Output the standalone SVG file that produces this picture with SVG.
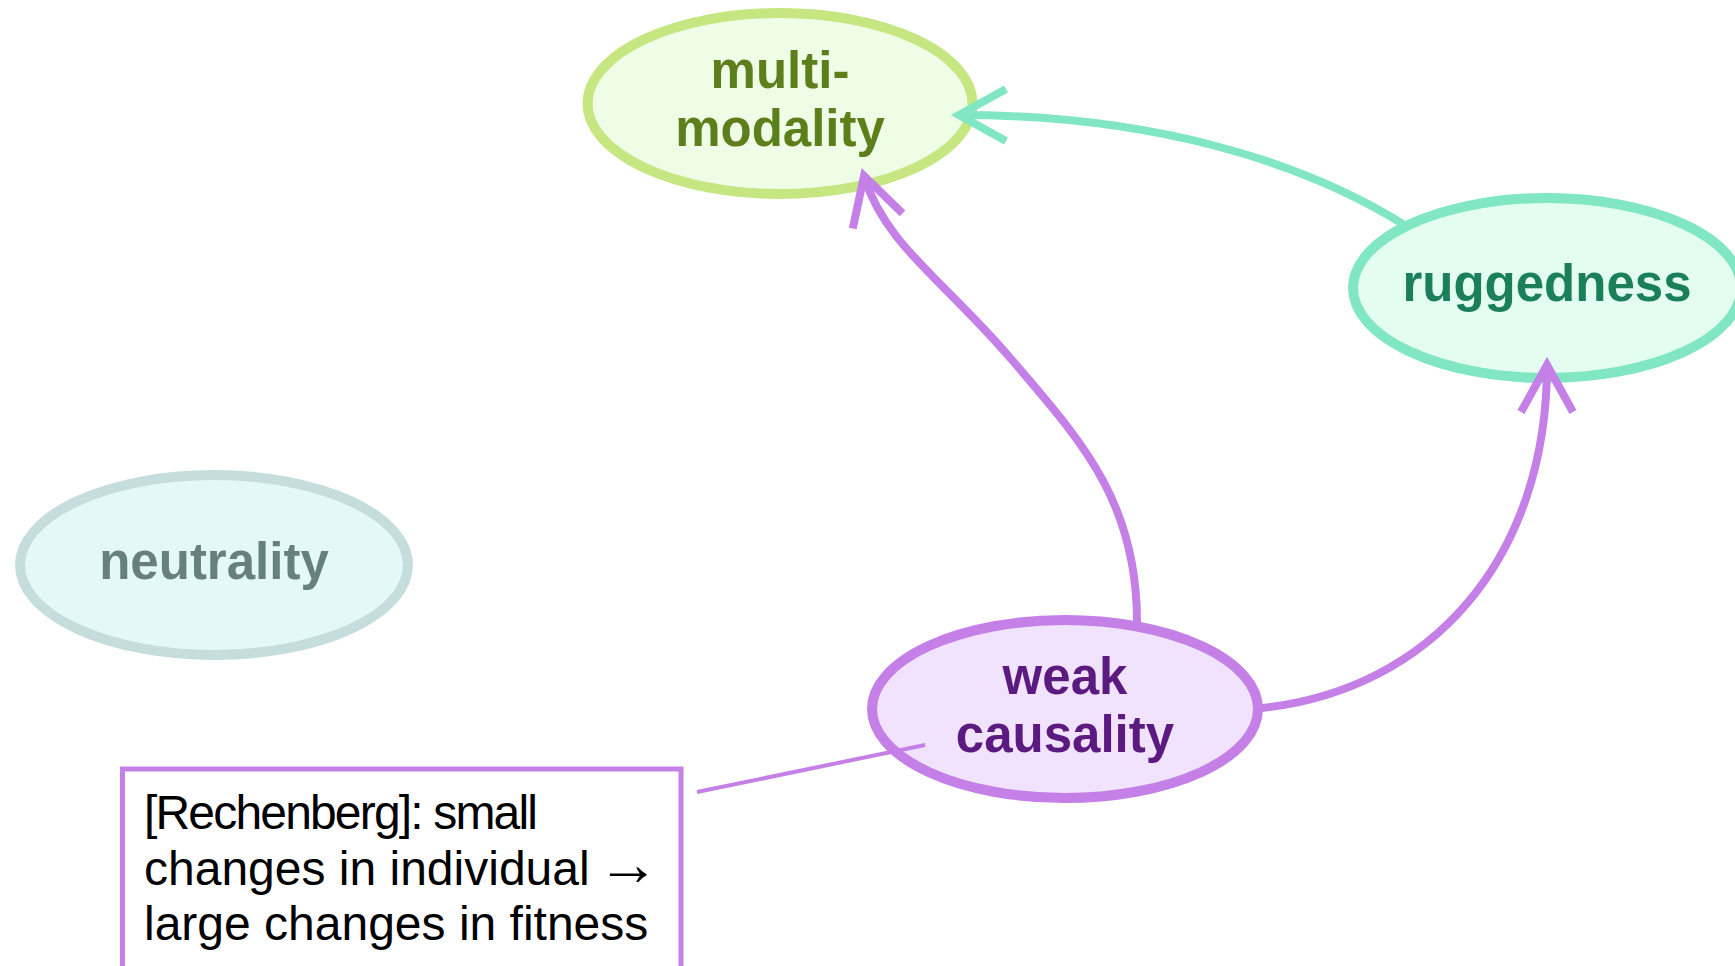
<svg xmlns="http://www.w3.org/2000/svg" width="1735" height="966" viewBox="0 0 1735 966">
  <style>
    .node ellipse { stroke-width: 10; }
    .label { font-family: "Liberation Sans", Arial, sans-serif; font-weight: bold; font-size: 51px; text-anchor: middle; }
    .edge { fill: none; stroke-width: 8; }
    .teal { stroke: #80e6c4; }
    .purple { stroke: #c480e6; }
    .note-text { font-family: "Liberation Sans", Arial, sans-serif; font-size: 48px; fill: #000000; }
    .arrow-glyph { font-family: "Liberation Serif", "Times New Roman", serif; font-size: 62px; }
  </style>
  <defs>
    <marker id="headTeal" markerUnits="userSpaceOnUse" markerWidth="100" markerHeight="100" viewBox="-60 -50 100 100" refX="0" refY="0" orient="auto" overflow="visible">
      <path d="M-47,-26 L0,0 L-47,26" fill="none" stroke="#80e6c4" stroke-width="8" stroke-linejoin="miter"/>
    </marker>
    <marker id="headPurple" markerUnits="userSpaceOnUse" markerWidth="100" markerHeight="100" viewBox="-60 -50 100 100" refX="0" refY="0" orient="auto" overflow="visible">
      <path d="M-47,-26 L0,0 L-47,26" fill="none" stroke="#c480e6" stroke-width="8" stroke-linejoin="miter"/>
    </marker>
  </defs>

  <rect width="1735" height="966" fill="#ffffff"/>

  <g id="multimodality" class="node">
    <ellipse cx="780" cy="103.5" rx="192.5" ry="90.5" fill="#f0fde6" stroke="#c5e680"/>
    <text class="label" fill="#5c7f1c"><tspan x="780" y="88">multi-</tspan><tspan x="780" y="146">modality</tspan></text>
  </g>

  <g id="ruggedness" class="node">
    <ellipse cx="1547" cy="288" rx="194" ry="90" fill="#e3fdf1" stroke="#80e6c4"/>
    <text class="label" fill="#1b7f5b" x="1547" y="301">ruggedness</text>
  </g>

  <g id="neutrality" class="node">
    <ellipse cx="214" cy="565" rx="194" ry="90" fill="#e5f8f8" stroke="#c5dddd"/>
    <text class="label" fill="#667f7f" x="214" y="579">neutrality</text>
  </g>

  <g id="weakcausality" class="node">
    <ellipse cx="1065" cy="709" rx="193" ry="89" fill="#f1e3fd" stroke="#c480e6"/>
    <text class="label" fill="#5b1a7f"><tspan x="1065" y="694">weak</tspan><tspan x="1065" y="752">causality</tspan></text>
  </g>

  <g id="note">
    <rect x="122.5" y="769" width="558.5" height="260" fill="#ffffff" stroke="#c480e6" stroke-width="5"/>
    <text class="note-text" x="144" y="829" textLength="394" lengthAdjust="spacing">[Rechenberg]: small</text>
    <text class="note-text" x="144" y="885">changes in individual <tspan class="arrow-glyph" dx="-6">→</tspan></text>
    <text class="note-text" x="144" y="940">large changes in fitness</text>
  </g>

  <g id="connectors">
    <path class="edge teal" d="M1403,224 C1300,160 1150,115 959,115" marker-end="url(#headTeal)"/>
    <path class="edge purple" d="M1137,622 C1137,500 1080,440 1012,360 C944,280 885,245 864,176" marker-end="url(#headPurple)"/>
    <path class="edge purple" d="M1262,708 C1430,690 1547,560 1547,365" marker-end="url(#headPurple)"/>
    <line class="purple" x1="697" y1="792" x2="925" y2="745" stroke-width="4"/>
  </g>
</svg>
